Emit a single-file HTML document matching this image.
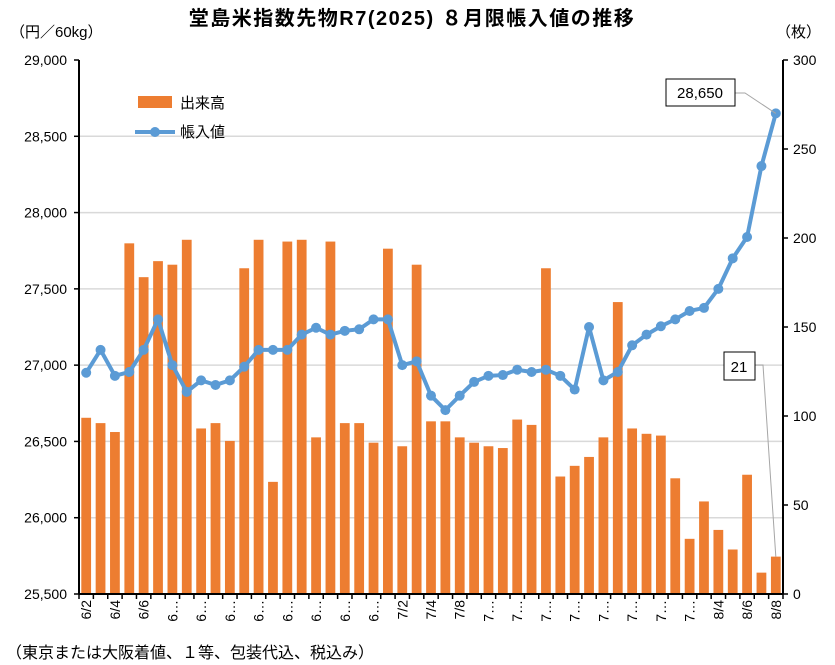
<!DOCTYPE html>
<html><head><meta charset="utf-8">
<style>
body{margin:0;background:#fff;}
svg{display:block;font-family:"Liberation Sans","Noto Sans CJK JP",sans-serif;}
</style></head>
<body>
<svg id="chart" width="835" height="665" viewBox="0 0 835 665" xmlns="http://www.w3.org/2000/svg">
<text x="412" y="25" text-anchor="middle" font-size="20" font-weight="bold" letter-spacing="1.5" fill="#000">堂島米指数先物R7(2025) ８月限帳入値の推移</text>
<text x="10" y="37" font-size="15" fill="#000">（円／60kg）</text>
<text x="776" y="37" font-size="15" fill="#000">（枚）</text>
<text x="6" y="658" font-size="16" fill="#000">（東京または大阪着値、１等、包装代込、税込み）</text>
<g id="grid"></g>
<g id="bars"></g>
<g id="line"></g>
<g id="axes"></g>
</svg>
<script>
const dates = ["6/2","6/3","6/4","6/5","6/6","6/9","6/10","6/11","6/12","6/13","6/16","6/17","6/18","6/19","6/20","6/23","6/24","6/25","6/26","6/27","6/30","7/1","7/2","7/3","7/4","7/7","7/8","7/9","7/10","7/11","7/14","7/15","7/16","7/17","7/18","7/22","7/23","7/24","7/25","7/28","7/29","7/30","7/31","8/1","8/4","8/5","8/6","8/7","8/8"];
const tickLabels = ["6/2","","6/4","","6/6","","6…","","6…","","6…","","6…","","6…","","6…","","6…","","6…","","7/2","","7/4","","7/8","","7…","","7…","","7…","","7…","","7…","","7…","","7…","","7…","","8/4","","8/6","","8/8"];
const volume = [99,96,91,197,178,187,185,199,93,96,86,183,199,63,198,199,88,198,96,96,85,194,83,185,97,97,88,85,83,82,98,95,183,66,72,77,88,164,93,90,89,65,31,52,36,25,67,12,21];
const price = [26950,27100,26930,26955,27100,27300,27000,26825,26900,26870,26900,26990,27100,27100,27100,27200,27245,27200,27225,27235,27300,27300,27000,27025,26800,26705,26800,26890,26930,26935,26970,26955,26970,26930,26840,27250,26900,26955,27130,27200,27255,27300,27355,27375,27500,27700,27840,28305,28650];
const leftTicks = [25500,26000,26500,27000,27500,28000,28500,29000];
const rightTicks = [0,50,100,150,200,250,300];

const NS="http://www.w3.org/2000/svg";
const X0=79,X1=783,Ytop=60,Ybot=594;
const n=dates.length, step=(X1-X0)/n;
const xs=i=>X0+step*(i+0.5);
const yL=v=>Ybot-(v-25500)/(29000-25500)*(Ybot-Ytop);
const yR=v=>Ybot-v/300*(Ybot-Ytop);
function mk(tag,attrs,parent,text){const e=document.createElementNS(NS,tag);for(const k in attrs)e.setAttribute(k,attrs[k]);if(text!==undefined)e.textContent=text;parent.appendChild(e);return e;}
const grid=document.getElementById('grid'),bars=document.getElementById('bars'),line=document.getElementById('line'),axes=document.getElementById('axes');

leftTicks.forEach(v=>{
  const y=yL(v);
  if(v>25500&&v<29000){const g=mk('line',{x1:X0,x2:X1,y1:y,y2:y,stroke:'#d9d9d9','stroke-width':1.5},grid);
  
  }
  const t=mk('text',{x:X0-12,y:y+5,'text-anchor':'end','font-size':14},axes,v.toLocaleString('en-US'));
  
  
  mk('line',{x1:X0-5,x2:X0,y1:y,y2:y,stroke:'#000','stroke-width':1.5},axes);
});
rightTicks.forEach(v=>{
  const y=yR(v);
  const t=mk('text',{x:X1+10,y:y+5,'font-size':14},axes,String(v));
  
  
  mk('line',{x1:X1,x2:X1+5,y1:y,y2:y,stroke:'#000','stroke-width':1.5},axes);
});

volume.forEach((v,i)=>{
  const bw=step*0.68;
  const r=mk('rect',{x:xs(i)-bw/2,y:yR(v),width:bw,height:Ybot-yR(v),fill:'#ed7d31'},bars);
  
  
});

const pts=price.map((v,i)=>xs(i)+','+yL(v)).join(' ');
const pl=mk('polyline',{points:pts,fill:'none',stroke:'#5b9bd5','stroke-width':4,'stroke-linejoin':'round'},line);


price.forEach((v,i)=>{
  const c=mk('circle',{cx:xs(i),cy:yL(v),r:5,fill:'#5b9bd5'},line);
  
  
});

mk('line',{x1:X0,x2:X0,y1:Ytop,y2:Ybot,stroke:'#000','stroke-width':2},axes);
mk('line',{x1:X1,x2:X1,y1:Ytop,y2:Ybot,stroke:'#000','stroke-width':2},axes);
mk('line',{x1:X0,x2:X1,y1:Ybot,y2:Ybot,stroke:'#000','stroke-width':2},axes);
for(let i=0;i<=n;i++){mk('line',{x1:X0+step*i,x2:X0+step*i,y1:Ybot,y2:Ybot+5,stroke:'#000','stroke-width':1.5},axes);}
tickLabels.forEach((l,i)=>{
  if(!l)return;
  const x=xs(i)+5,y=Ybot+6;
  const t=mk('text',{x:x,y:y,'text-anchor':'end','font-size':14,transform:`rotate(-90 ${x} ${y})`},axes,l);
  
  
});

const lg=mk('g',{},axes);


mk('rect',{x:138,y:96,width:34,height:12,fill:'#ed7d31'},lg);
mk('text',{x:180,y:108,'font-size':15},lg,'出来高');
mk('line',{x1:135,x2:175,y1:132,y2:132,stroke:'#5b9bd5','stroke-width':4},lg);
mk('circle',{cx:155,cy:132,r:5,fill:'#5b9bd5'},lg);
mk('text',{x:180,y:137,'font-size':15},lg,'帳入値');

const last=n-1;
mk('polyline',{points:`735,93 745,93 ${xs(last)},${yL(price[last])}`,fill:'none',stroke:'#a6a6a6'},axes);
mk('rect',{x:666,y:79,width:69,height:27,fill:'#fff',stroke:'#000'},axes);
const c1=mk('text',{x:700,y:98,'text-anchor':'middle','font-size':15},axes,price[last].toLocaleString('en-US'));


mk('polyline',{points:`754,365 763,365 ${xs(last)},${yR(volume[last])}`,fill:'none',stroke:'#a6a6a6'},axes);
mk('rect',{x:724,y:352,width:31,height:28,fill:'#fff',stroke:'#000'},axes);
const c2=mk('text',{x:739,y:372,'text-anchor':'middle','font-size':15},axes,String(volume[last]));


</script>
</body></html>
